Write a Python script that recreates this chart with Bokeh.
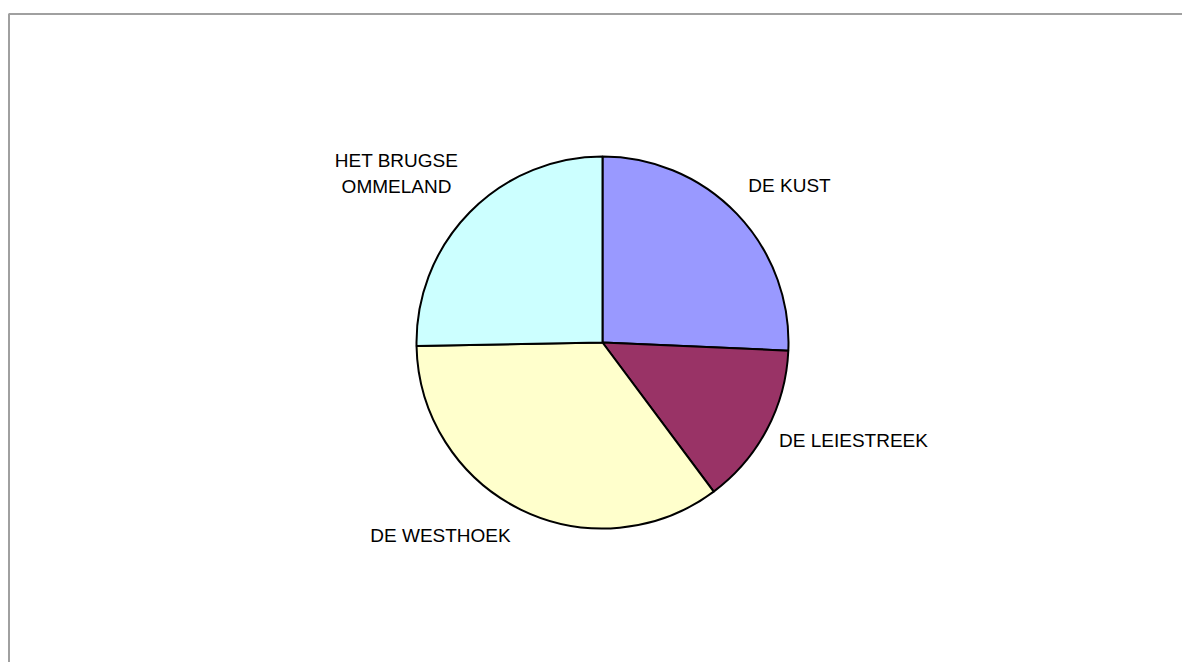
import numpy as np
from bokeh.plotting import figure
from bokeh.models import Range1d, ColumnDataSource
from bokeh.core.properties import value
from bokeh.embed import file_html
from bokeh.resources import INLINE

# ---- data ----
regions = ["DE KUST", "DE LEIESTREEK", "DE WESTHOEK", "HET BRUGSE\nOMMELAND"]
shares = [25.7, 14.1, 34.9, 25.3]
colors = ["#9999FF", "#993366", "#FFFFCC", "#CCFFFF"]

# ---- layout (pixels) ----
W, H = 1182, 662
cx, cy, R = 602, 320, 186
# label centre offsets from the pie centre, in pixels (x right, y up)
label_dx = [187, 251, -162, -206]
label_dy = [157, -98, -193, 169]

p = figure(width=W, height=H, x_range=Range1d(0, W), y_range=Range1d(0, H),
           output_backend="svg", toolbar_location=None, min_border=0,
           background_fill_color="white", border_fill_color="white")
p.axis.visible = False
p.grid.visible = False
p.outline_line_color = None

# chart-area border (top and left visible)
p.line(x=[8.5, 8.5, W], y=[0, H - 13.5, H - 13.5], line_color="#A0A0A0", line_width=2)

frac = np.array(shares, dtype=float) / sum(shares)
cum = np.concatenate([[0], np.cumsum(frac)])
start = np.pi / 2 - 2 * np.pi * cum[:-1]
end = np.pi / 2 - 2 * np.pi * cum[1:]

src = ColumnDataSource(dict(x=[cx] * len(regions), y=[cy] * len(regions),
                            start=start, end=end, color=colors, name=regions))
p.wedge(x="x", y="y", radius=R, start_angle="start", end_angle="end",
        direction="clock", fill_color="color", line_color="black",
        line_width=2, source=src)

lsrc = ColumnDataSource(dict(x=[cx + d for d in label_dx],
                             y=[cy + d for d in label_dy], text=regions))
p.text(x="x", y="y", text="text", source=lsrc, text_align="center",
       text_baseline="middle", text_font=value("Liberation Sans"),
       text_font_size="19px", text_color="black", text_line_height=1.2)

open("out.html", "w").write(file_html(p, INLINE))
